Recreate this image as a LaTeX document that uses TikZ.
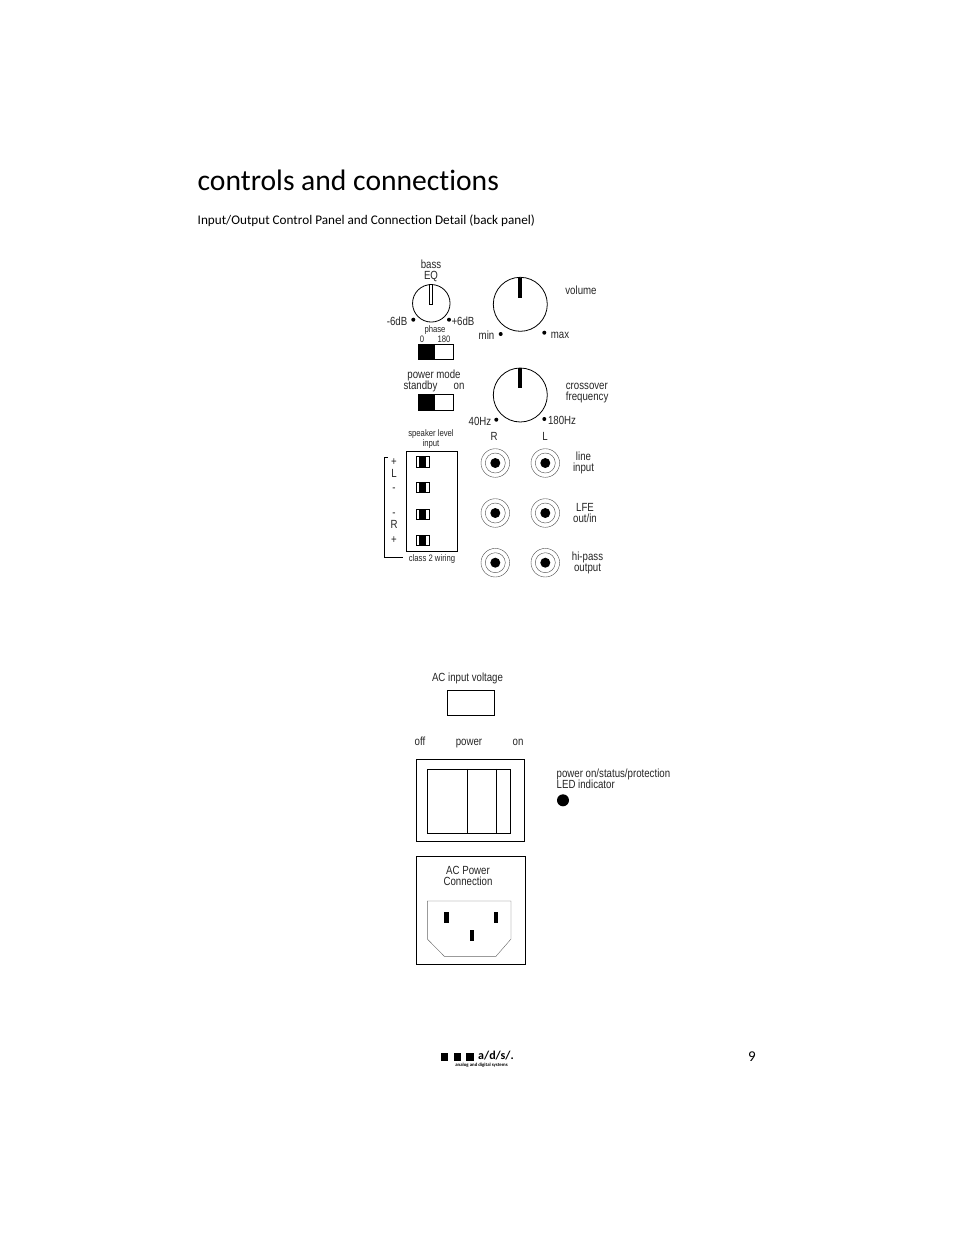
\documentclass[tikz,border=0pt]{standalone}
\usepackage{fontspec}
\setmainfont[Ligatures=CommonOff]{Carlito}
\newfontfamily\narrowfont[FakeStretch=0.82]{Liberation Sans}
\usetikzlibrary{positioning,calc}

\begin{document}
\begin{tikzpicture}[%
    x=1pt, y=-1pt,              % Work in reference pixels
    node distance=10pt
    ]

\tikzset{
    lbltwo/.style={inner sep=0pt, align=center, font={\narrowfont\fontsize{11.8}{11}\selectfont}, text=black!85},
    lbl/.style={lbltwo, text height=8.5pt, text depth=0pt},
    tiny/.style={lbltwo, font={\narrowfont\fontsize{9.4}{8}\selectfont}},
    dial/.style={circle, draw, line width=0.8pt, inner sep=0pt, minimum size=#1},
    spot/.style={circle, fill=black, inner sep=0pt, minimum size=4pt},
    box/.style={rectangle, draw, line width=0.8pt, inner sep=0pt},
    pin/.style={rectangle, fill=black, inner sep=0pt},
    ring/.style={circle, draw=black!70, thin, inner sep=0pt, minimum size=#1},
    cell/.style={rectangle, fill=black, inner sep=0pt},
    % Slide switch, half black
    slide/.style={box, minimum width=35pt, minimum height=15.5pt},
    % Small plug of the speaker level input
    plug/.style={box, thick, fill=white, minimum width=13pt, minimum height=10.2pt},
    conn/.style={line width=0.8pt}
}

\useasboundingbox (0,0) rectangle (954,1235);
\fill [white] (0,0) rectangle (954,1235);

%% Heading
\node [anchor=base west, inner sep=0pt, font=\fontsize{29.6}{32}\selectfont] (title) at (197.5,190) {controls and connections};
\node [anchor=base west, inner sep=0pt, font=\fontsize{13.2}{15}\selectfont] (subtitle) at (197.5,224) {Input/Output Control Panel and Connection Detail (back panel)};

%% Bass
\node [dial=37.5pt] (bass) at (431.3,303.3) {};
\node [box, line width=0.6pt, fill=white, minimum width=3.4pt, minimum height=20pt] (bassmark) at (431,294.5) {};
\node [lbltwo] (basslbl) at (431,270.5) {bass\\EQ};
\node [spot] (bassmin) at (413.3,319.7) {};
\node [spot] (bassmax) at (449,319.7) {};
\node [lbl] (bassminlbl) at (397,321) {-6dB};
\node [lbl] (bassmaxlbl) at (463,321) {+6dB};

%% Phase
\node [tiny] (phase) at (435,330) {phase};
\node [tiny] (phase0) at (422,339) {0};
\node [tiny] (phase180) at (444,339) {180};
\node [slide] (phasesw) at (435.8,351.8) {};
\node [cell, minimum width=17pt, minimum height=15.5pt] (phaseblk) at (426.6,351.8) {};

%% Power mode
\node [lbl] (modelbl) at (434,374.5) {power mode};
\node [lbl] (standby) at (420.5,385.5) {standby};
\node [lbl] (modeon) at (459,385.5) {on};
\node [slide, minimum height=16.5pt] (modesw) at (435.8,402.5) {};
\node [cell, minimum width=17pt, minimum height=16.5pt] (modeblk) at (426.6,402.5) {};

%% Volume
\node [dial=54pt] (volume) at (520.3,304.3) {};
\node [cell, minimum width=3.7pt, minimum height=20pt] (volmark) at (520.2,287.7) {};
\node [lbl] (vollbl) at (581,290.5) {volume};
\node [spot] (volmin) at (500.7,334) {};
\node [spot] (volmax) at (544.3,332.7) {};
\node [lbl] (volminlbl) at (486.5,335.5) {min};
\node [lbl] (volmaxlbl) at (560,334.5) {max};

%% Crossover
\node [dial=54pt] (cross) at (520.3,395) {};
\node [cell, minimum width=3.7pt, minimum height=20pt] (crossmark) at (520.2,378.3) {};
\node [lbltwo, align=left, anchor=west] (crosslbl) at (565.7,393) {crossover\\frequency};
\node [spot] (crossmin) at (496.3,419.7) {};
\node [spot] (crossmax) at (544.3,419) {};
\node [lbl] (crossminlbl) at (480,421) {40Hz};
\node [lbl] (crossmaxlbl) at (562,420.5) {180Hz};

%% Speaker level input
\node [tiny] (speaker) at (431,438.7) {speaker level\\input};
\node [box, minimum width=51.5pt, minimum height=100pt] (spkbox) at (431.7,501.2) {};
\node [tiny] (wiring) at (432,558.7) {class 2 wiring};
\foreach \name/\ypos in {a/461.8, b/487.5, c/514.2, d/540} {
    \node [plug] (plug\name) at (423,\ypos) {};
    \node [cell, minimum width=7pt, minimum height=10.2pt] (blk\name) at (422.2,\ypos) {};
}
\foreach \name/\ypos/\txt in {lp/461/+, ll/473/L, lm/487/-, rm/512/-, rr/524.5/R, rp/539.5/+} {
    \node [lbl] (\name) at (394,\ypos) {\txt};
}
\coordinate (bktop) at (387.5,457.7);
\coordinate (bkbot) at (402.5,557);
\coordinate (bkside) at (384.3,0);
\draw [conn] (bktop) -- (bkside |- bktop) -- (bkside |- bkbot) -- (bkbot);

%% Jacks
\node [lbl] (chanr) at (494,436.5) {R};
\node [lbl] (chanl) at (545,436.5) {L};
\foreach \name/\xpos in {r/495.3, l/545.3} {
    \foreach \row/\ypos in {a/463, b/513, c/562.7} {
        \node [ring=28.6pt] (outer\name\row) at (\xpos,\ypos) {};
        \node [ring=20pt] (mid\name\row) at (\xpos,\ypos) {};
        \node [circle, fill=black, inner sep=0pt, minimum size=10pt] (jack\name\row) at (\xpos,\ypos) {};
    }
}
\node [lbltwo] (linelbl) at (583.5,463) {line\\input};
\node [lbltwo] (lfelbl) at (585,513) {LFE\\out/in};
\node [lbltwo] (hipass) at (587.5,563) {hi-pass\\output};

%% AC input voltage
\node [lbl] (aclbl) at (467.5,677.7) {AC input voltage};
\node [box, minimum width=47pt, minimum height=25pt] (acbox) at (470.8,702.8) {};

%% Power switch
\node [lbl] (off) at (420,741.5) {off};
\node [lbl] (power) at (469,741.5) {power};
\node [lbl] (on) at (518,741.5) {on};
\node [box, minimum width=108.4pt, minimum height=82pt] (pwrouter) at (470.5,800.3) {};
\node [box, minimum width=83pt, minimum height=64pt] (pwrinner) at (468.8,801.3) {};
\coordinate (rocka) at (467.3,0);
\coordinate (rockb) at (496.7,0);
\draw [conn] (rocka |- pwrinner.north) -- (rocka |- pwrinner.south);
\draw [conn] (rockb |- pwrinner.north) -- (rockb |- pwrinner.south);

%% LED
\node [lbltwo, align=left, anchor=west] (ledlbl) at (556.5,778.5) {power on/status/protection\\LED indicator};
\node [circle, fill=black, inner sep=0pt, minimum size=12pt] (led) at (563,800.3) {};

%% AC Power
\node [box, minimum width=109.5pt, minimum height=108.5pt] (socket) at (471,910.3) {};
\node [lbltwo] (socketlbl) at (468,875.5) {AC Power\\Connection};
\draw [black!60] (427.3,901) -- (511,901) -- (511,939) -- (496,956.3) -- (444.3,956.3) -- (427.3,939) -- cycle;
\node [pin, minimum width=4.7pt, minimum height=11.6pt] (pinl) at (446.6,917.5) {};
\node [pin, minimum width=4pt, minimum height=11.6pt] (pinr) at (496,917.5) {};
\node [pin, minimum width=3.7pt, minimum height=10.7pt] (pinm) at (471.8,935.3) {};

%% Footer
\foreach \name/\xpos in {a/444.5, b/457.3, c/470.2} {
    \node [pin, minimum size=7.5pt] (sq\name) at (\xpos,1057) {};
}
\node [anchor=base west, inner sep=0pt, font=\fontsize{12}{12}\selectfont\bfseries] (logo) at (478,1059.8) {a/d/s/.};
\node [inner sep=0pt, font=\fontsize{4.8}{5}\selectfont\bfseries] (logosub) at (481.5,1065.2) {analog and digital systems};
\node [anchor=base, inner sep=0pt, font=\fontsize{15}{16}\selectfont] (pageno) at (752,1061) {9};
\end{tikzpicture}
\end{document}
